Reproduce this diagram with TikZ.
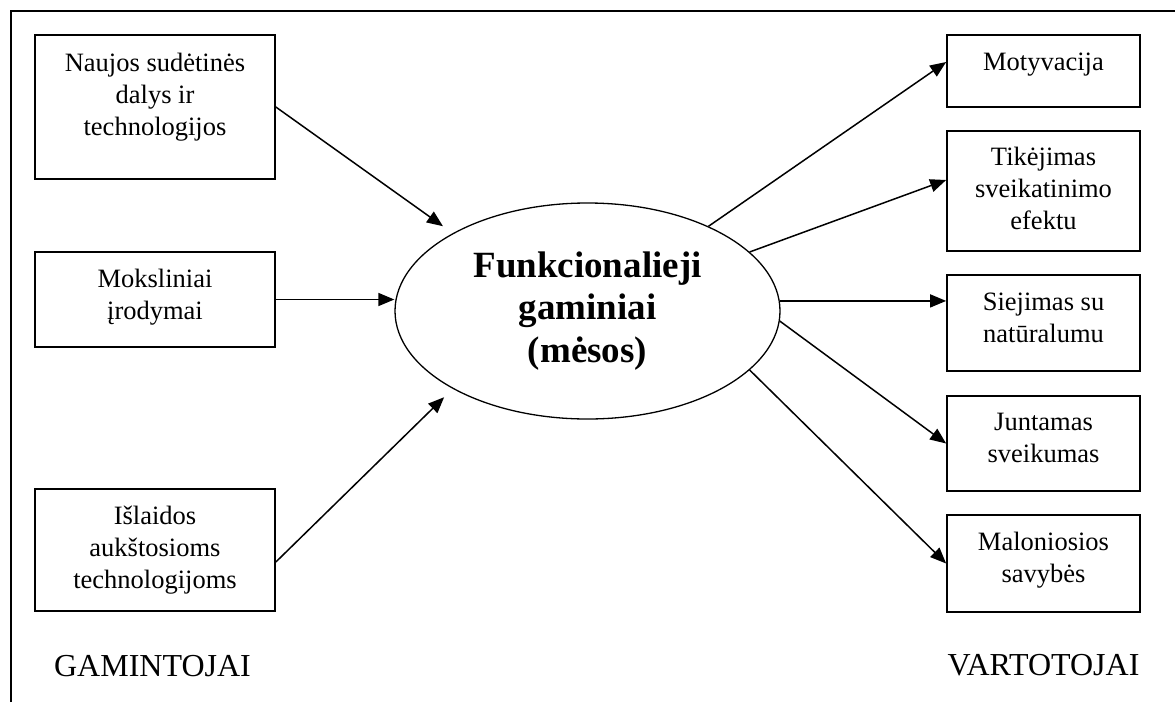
\documentclass[tikz,border=0pt]{standalone}
\usepackage{fontspec}
\setmainfont{Liberation Serif}
\usetikzlibrary{arrows.meta,shapes.geometric}
\newcommand\bxt[4]{\parbox[c][#1][t]{#2}{\centering\rule{0pt}{#3}#4}}
\begin{document}
\begin{tikzpicture}[x=1pt,y=-1pt,
  box/.style={draw,line width=1.7pt,inner sep=0pt,font=\fontsize{26.5pt}{32pt}\selectfont},
  arr/.style={line width=1.5pt,-{Triangle[length=16pt,width=13pt]}},
  lab/.style={anchor=base,font=\fontsize{32pt}{38pt}\selectfont}]
\useasboundingbox (0,0) rectangle (1175,702);
\draw[line width=1.8pt] (11,702) -- (11,11) -- (1175,11);
% producers
\node[box] (b1) at (155,107) {\bxt{144pt}{240pt}{36pt}{Naujos sudėtinės\\dalys ir\\technologijos}};
\node[box] (b2) at (155,299.5) {\bxt{95pt}{240pt}{35pt}{Moksliniai\\įrodymai}};
\node[box] (b3) at (155,550) {\bxt{122pt}{240pt}{35pt}{Išlaidos\\aukštosioms\\technologijoms}};
% consumers
\node[box] (r1) at (1043.5,71) {\bxt{72pt}{193pt}{35pt}{Motyvacija}};
\node[box] (r2) at (1043.5,191) {\bxt{120pt}{193pt}{34pt}{Tikėjimas\\sveikatinimo\\efektu}};
\node[box] (r3) at (1043.5,323) {\bxt{96pt}{193pt}{35pt}{Siejimas su\\natūralumu}};
\node[box] (r4) at (1043.5,443.5) {\bxt{95pt}{193pt}{34pt}{Juntamas\\sveikumas}};
\node[box] (r5) at (1043.5,563.5) {\bxt{97pt}{193pt}{35pt}{Maloniosios\\savybės}};
% centre
\node[draw,ellipse,line width=1.3pt,minimum width=385pt,minimum height=216pt,inner sep=0pt,align=center,
  font=\bfseries\fontsize{37pt}{42.5pt}\selectfont] (ell) at (587.5,311) {Funkcionalieji\\gaminiai\\(mėsos)};
% labels
\node[lab] (gam) at (152.5,676) {GAMINTOJAI};
\node[lab] (var) at (1043.5,675) {VARTOTOJAI};
% arrows
\coordinate (b3o) at ([yshift=-12pt]b3.east);
\draw[arr,shorten >=12pt] (b1.east) -- (ell.150);
\draw[arr] (b2.east) -- (b2.east -| ell.west);
\draw[arr,shorten >=12pt] (b3o) -- (ell.210);
\draw[arr] (ell.35.5) -- ([yshift=9pt]r1.west);
\draw[arr] (ell.20) -- ([yshift=11pt]r2.west);
\draw[arr] (ell.3.5) -- (ell.3.5 -| r3.west);
\draw[arr] (ell.-3.5) -- (r4.west);
\draw[arr] (ell.-20) -- (r5.west);
\end{tikzpicture}
\end{document}
